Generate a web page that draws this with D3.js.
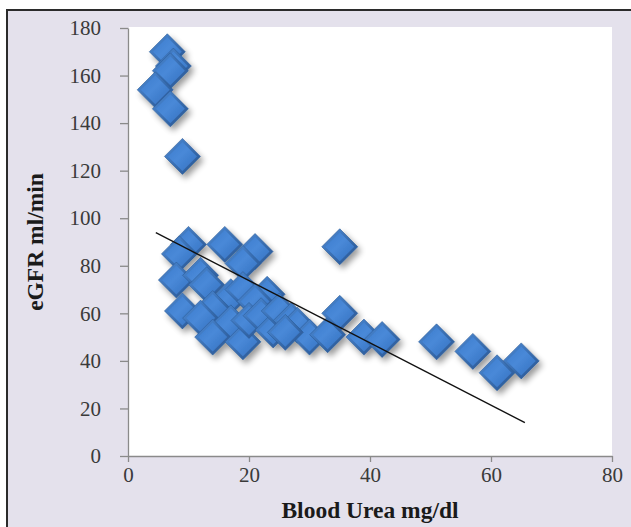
<!DOCTYPE html>
<html lang="en">
<head>
<meta charset="utf-8" />
<style>
body { margin: 0; background: #fff; }
.tick text { font-family: "Liberation Serif", "Times New Roman", serif; font-size: 21px; fill: #3a3a3a; }
.domain, .tick line { stroke: #8a8a8a; stroke-width: 1.3px; }
.axisTitle { font-family: "Liberation Serif", "Times New Roman", serif; font-size: 23.5px; font-weight: bold; fill: #1a1a1a; }
</style>
</head>
<body>
<script src="https://cdn.jsdelivr.net/npm/d3@7"></script>
<script>
// blood urea (mg/dl) vs eGFR (ml/min)
var urea = [6.5, 7.5, 7, 4.5, 7, 9,
            10, 8.5, 16, 21, 19, 8, 12, 13, 23, 17, 19, 21,
            9, 14, 12, 17, 14, 19, 20, 22, 24, 25, 27, 28, 30, 26,
            33, 35, 39, 42, 35, 51, 57, 61, 65];
var egfr = [170, 164, 162, 154, 146, 126,
            89, 85, 89, 86, 81, 74, 76, 72, 68, 67, 70, 65,
            61, 62, 58, 56, 50, 48, 57, 59, 53, 61, 57, 55, 50, 52,
            51, 60, 50, 49, 88, 48, 44, 35, 40];
// linear trend line: intercept, slope, x range
var trend = [100.0, -1.31];
var trendRange = [4.6, 65.6];
var xTicks = [0, 20, 40, 60, 80];
var yTicks = [0, 20, 40, 60, 80, 100, 120, 140, 160, 180];

var width = 631, height = 527;
var padL = 128, padR = 612, padT = 28, padB = 456;

var svg = d3.select("body").append("svg")
    .attr("width", width)
    .attr("height", height);

var defs = svg.append("defs");
var shadow = defs.append("filter").attr("id", "shadow")
    .attr("x", "-50%").attr("y", "-50%").attr("width", "200%").attr("height", "200%");
shadow.append("feGaussianBlur").attr("in", "SourceAlpha").attr("stdDeviation", 3).attr("result", "b");
shadow.append("feOffset").attr("dx", 3).attr("dy", 4).attr("result", "o");
shadow.append("feComponentTransfer").append("feFuncA").attr("type", "linear").attr("slope", 0.4);
var merge = shadow.append("feMerge");
merge.append("feMergeNode");
merge.append("feMergeNode").attr("in", "SourceGraphic");

var grad = defs.append("linearGradient").attr("id", "face")
    .attr("x1", "0").attr("y1", "0").attr("x2", "1").attr("y2", "1");
grad.append("stop").attr("offset", "0%").attr("stop-color", "#3b7bcc");
grad.append("stop").attr("offset", "45%").attr("stop-color", "#4989d8");
grad.append("stop").attr("offset", "100%").attr("stop-color", "#3470bf");

var edge = defs.append("linearGradient").attr("id", "edge")
    .attr("x1", "0").attr("y1", "0").attr("x2", "1").attr("y2", "1");
edge.append("stop").attr("offset", "0%").attr("stop-color", "#4f8cd8");
edge.append("stop").attr("offset", "100%").attr("stop-color", "#24528e");

// background frame
svg.append("rect").attr("x", 7).attr("y", 10).attr("width", width - 7).attr("height", height - 10)
    .attr("fill", "#e4e1ec");
svg.append("path").attr("d", "M7," + height + "V10H" + width)
    .attr("fill", "none").attr("stroke", "#2b2b2b").attr("stroke-width", 2);

var x = d3.scaleLinear().domain([0, 80]).range([padL, padR]);
var y = d3.scaleLinear().domain([0, 180]).range([padB, padT]);

svg.append("rect").attr("x", padL + 1).attr("y", padT - 1)
    .attr("width", padR - padL - 1).attr("height", padB - padT + 1)
    .attr("fill", "#ffffff");

svg.append("g").attr("transform", "translate(0," + padB + ")")
    .call(d3.axisBottom(x).tickValues(xTicks).tickSize(6).tickSizeOuter(0).tickPadding(5));
svg.append("g").attr("transform", "translate(" + padL + ",0)")
    .call(d3.axisLeft(y).tickValues(yTicks).tickSize(8).tickSizeOuter(0).tickPadding(19));

svg.append("text").attr("class", "axisTitle")
    .attr("x", 370).attr("y", 518).attr("text-anchor", "middle")
    .text("Blood Urea mg/dl");
svg.append("text").attr("class", "axisTitle")
    .attr("transform", "translate(43,242) rotate(-90)").attr("text-anchor", "middle")
    .text("eGFR ml/min");

var pts = urea.map(function (u, i) { return [u, egfr[i]]; });
var r = 18, ri = 14.5;
var g = svg.append("g").attr("filter", "url(#shadow)");
var dots = g.selectAll(".pt").data(pts).enter().append("g")
    .attr("transform", function (d) { return "translate(" + x(d[0]) + "," + y(d[1]) + ")"; });
dots.append("path")
    .attr("d", "M0," + (-r) + "L" + r + ",0L0," + r + "L" + (-r) + ",0Z")
    .attr("fill", "url(#edge)")
    .attr("stroke", "#2a5a96").attr("stroke-width", 0.6);
dots.append("path")
    .attr("d", "M0," + (-ri) + "L" + ri + ",0L0," + ri + "L" + (-ri) + ",0Z")
    .attr("fill", "url(#face)");

svg.append("line")
    .attr("x1", x(trendRange[0])).attr("y1", y(trend[0] + trend[1] * trendRange[0]))
    .attr("x2", x(trendRange[1])).attr("y2", y(trend[0] + trend[1] * trendRange[1]))
    .attr("stroke", "#111").attr("stroke-width", 1.3);
</script>
</body>
</html>
